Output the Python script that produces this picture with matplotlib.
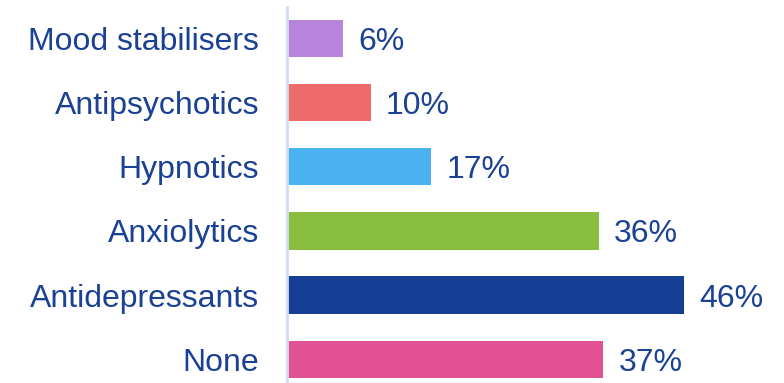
import matplotlib.pyplot as plt

plt.rcParams['font.family'] = ['Liberation Sans', 'DejaVu Sans']

categories = ['Mood stabilisers', 'Antipsychotics', 'Hypnotics',
              'Anxiolytics', 'Antidepressants', 'None']
values = [6.4, 9.6, 16.6, 36.1, 46.0, 36.6]
labels = ['6%', '10%', '17%', '36%', '46%', '37%']
colors = ['#B784DC', '#EE6B6B', '#4AB2F1', '#88BD40', '#143F94', '#E15194']

text_col = '#1A4193'

fig = plt.figure(figsize=(7.84, 3.83), dpi=100)
ax = fig.add_axes([287 / 784, 0.0, 1 - 287 / 784, 376 / 383])

pos = list(range(len(categories)))
ax.barh(pos, values, height=0.58, color=colors, left=0.15)

for p, v, lab in zip(pos, values, labels):
    ax.text(v + 0.15 + 1.75, p, lab, va='center_baseline', ha='left',
            fontsize=23, color=text_col)

ax.set_xlim(0, 497 / 8.61)
ax.set_ylim(5.37, -0.49)

ax.set_yticks(pos)
ax.set_yticklabels(categories, fontsize=23, color=text_col,
                   va='center_baseline')
ax.tick_params(axis='y', length=0, pad=20)
ax.set_xticks([])

for s in ['top', 'right', 'bottom']:
    ax.spines[s].set_visible(False)
ax.spines['left'].set_color('#D0DDF5')
ax.spines['left'].set_linewidth(2)

fig.savefig('out.png', dpi=100)
